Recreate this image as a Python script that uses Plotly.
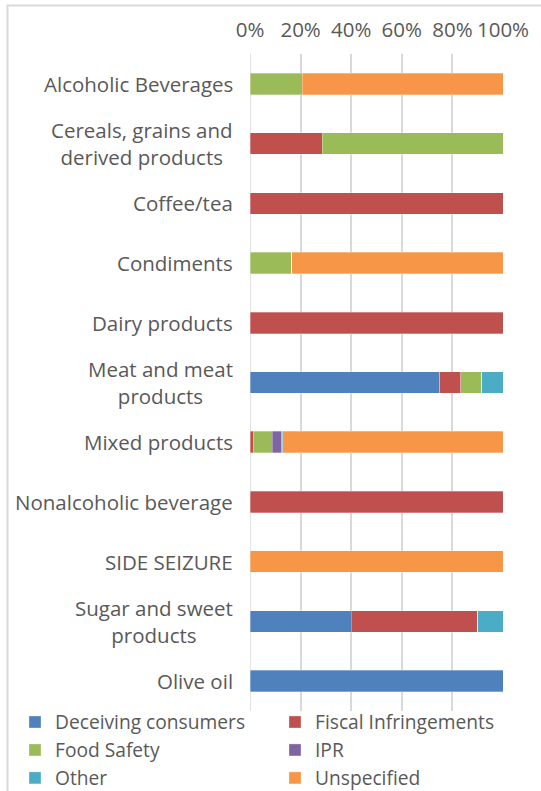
import plotly.graph_objects as go

categories = [
    "Alcoholic Beverages",
    "Cereals, grains and<br>derived products",
    "Coffee/tea",
    "Condiments",
    "Dairy products",
    "Meat and meat<br>products",
    "Mixed products",
    "Nonalcoholic beverage",
    "SIDE SEIZURE",
    "Sugar and sweet<br>products",
    "Olive oil",
]

deceiving = [0, 0, 0, 0, 0, 75.0, 0, 0, 0, 40.0, 100.0]
fiscal = [0, 28.5, 100.0, 0, 100.0, 8.33, 1.3, 100.0, 0, 50.0, 0]
food_safety = [20.7, 71.5, 0, 16.5, 0, 8.33, 7.5, 0, 0, 0, 0]
ipr = [0, 0, 0, 0, 0, 0, 3.7, 0, 0, 0, 0]
other = [0, 0, 0, 0, 0, 8.34, 0.5, 0, 0, 10.0, 0]
unspecified = [79.3, 0, 0, 83.5, 0, 0, 87.0, 0, 100.0, 0, 0]

# (name, values, colour, legend column)
series = [
    ("Deceiving consumers", deceiving, "#4F81BD", "legend"),
    ("Fiscal Infringements", fiscal, "#C0504D", "legend2"),
    ("Food Safety", food_safety, "#9BBB59", "legend"),
    ("IPR", ipr, "#8064A2", "legend2"),
    ("Other", other, "#4BACC6", "legend"),
    ("Unspecified", unspecified, "#F79646", "legend2"),
]

tick_vals = [0, 20, 40, 60, 80, 100]
tick_text = ["0%", "20%", "40%", "60%", "80%", "100%"]

FONT = "Open Sans"
GREY = "#595959"
FS = 20.5
LFS = 19.2

fig = go.Figure()
for name, vals, color, leg in series:
    fig.add_trace(go.Bar(
        y=categories, x=vals, name=name, orientation="h",
        marker=dict(color=color, line=dict(color="rgba(255,255,255,0.6)", width=0.5)),
        width=0.36, legend=leg,
    ))

W, H = 541, 791
ml, mr, mt, mb = 250, 38, 54, 80
pw = W - ml - mr
ph = H - mt - mb

def px_x(p):
    return (p - ml) / pw

def px_y(p):
    return 1 - (p - mt) / ph

annotations = [
    dict(x=px_x(235), xref="paper", y=c, yref="y", text=c,
         xanchor="right", yanchor="middle", align="center", showarrow=False,
         font=dict(family=FONT, size=FS, color=GREY))
    for c in categories
]

legend_common = dict(
    orientation="v",
    xref="container", yref="container",
    xanchor="left", yanchor="top",
    font=dict(family=FONT, size=LFS, color=GREY),
    itemwidth=30, tracegroupgap=0,
    traceorder="normal",
    bgcolor="rgba(0,0,0,0)",
)

fig.update_layout(
    width=W, height=H,
    margin=dict(l=ml, r=mr, t=mt, b=mb, pad=0, autoexpand=False),
    barmode="stack",
    plot_bgcolor="white", paper_bgcolor="white",
    font=dict(family=FONT, color=GREY, size=FS),
    showlegend=True,
    legend=dict(x=15 / W, y=1 - 703 / H, **legend_common),
    legend2=dict(x=275 / W, y=1 - 703 / H, **legend_common),
    xaxis=dict(
        side="top", range=[0, 100],
        tickvals=tick_vals, ticktext=tick_text,
        showgrid=True, gridcolor="#D9D9D9", gridwidth=1.5,
        zeroline=False, showline=False,
        ticks="", ticklabelstandoff=12,
        tickfont=dict(family=FONT, size=FS, color=GREY),
        fixedrange=True,
    ),
    yaxis=dict(
        categoryorder="array", categoryarray=categories,
        autorange="reversed",
        showgrid=False, zeroline=False, showline=False,
        ticks="", showticklabels=False,
    ),
    annotations=annotations,
    shapes=[
        dict(type="line", xref="x", yref="paper", x0=0, x1=0, y0=0, y1=1,
             line=dict(color="#D9D9D9", width=1.5), layer="below"),
        dict(type="rect", xref="paper", yref="paper",
             x0=px_x(7.5), x1=px_x(W + 20), y0=px_y(H + 20), y1=px_y(5.5),
             line=dict(color="#D9D9D9", width=2), fillcolor="rgba(0,0,0,0)"),
    ],
)

fig.write_html(
    "out.html",
    config={"displayModeBar": False},
    post_script="document.body.style.margin='0px';document.body.style.overflow='hidden';",
)
